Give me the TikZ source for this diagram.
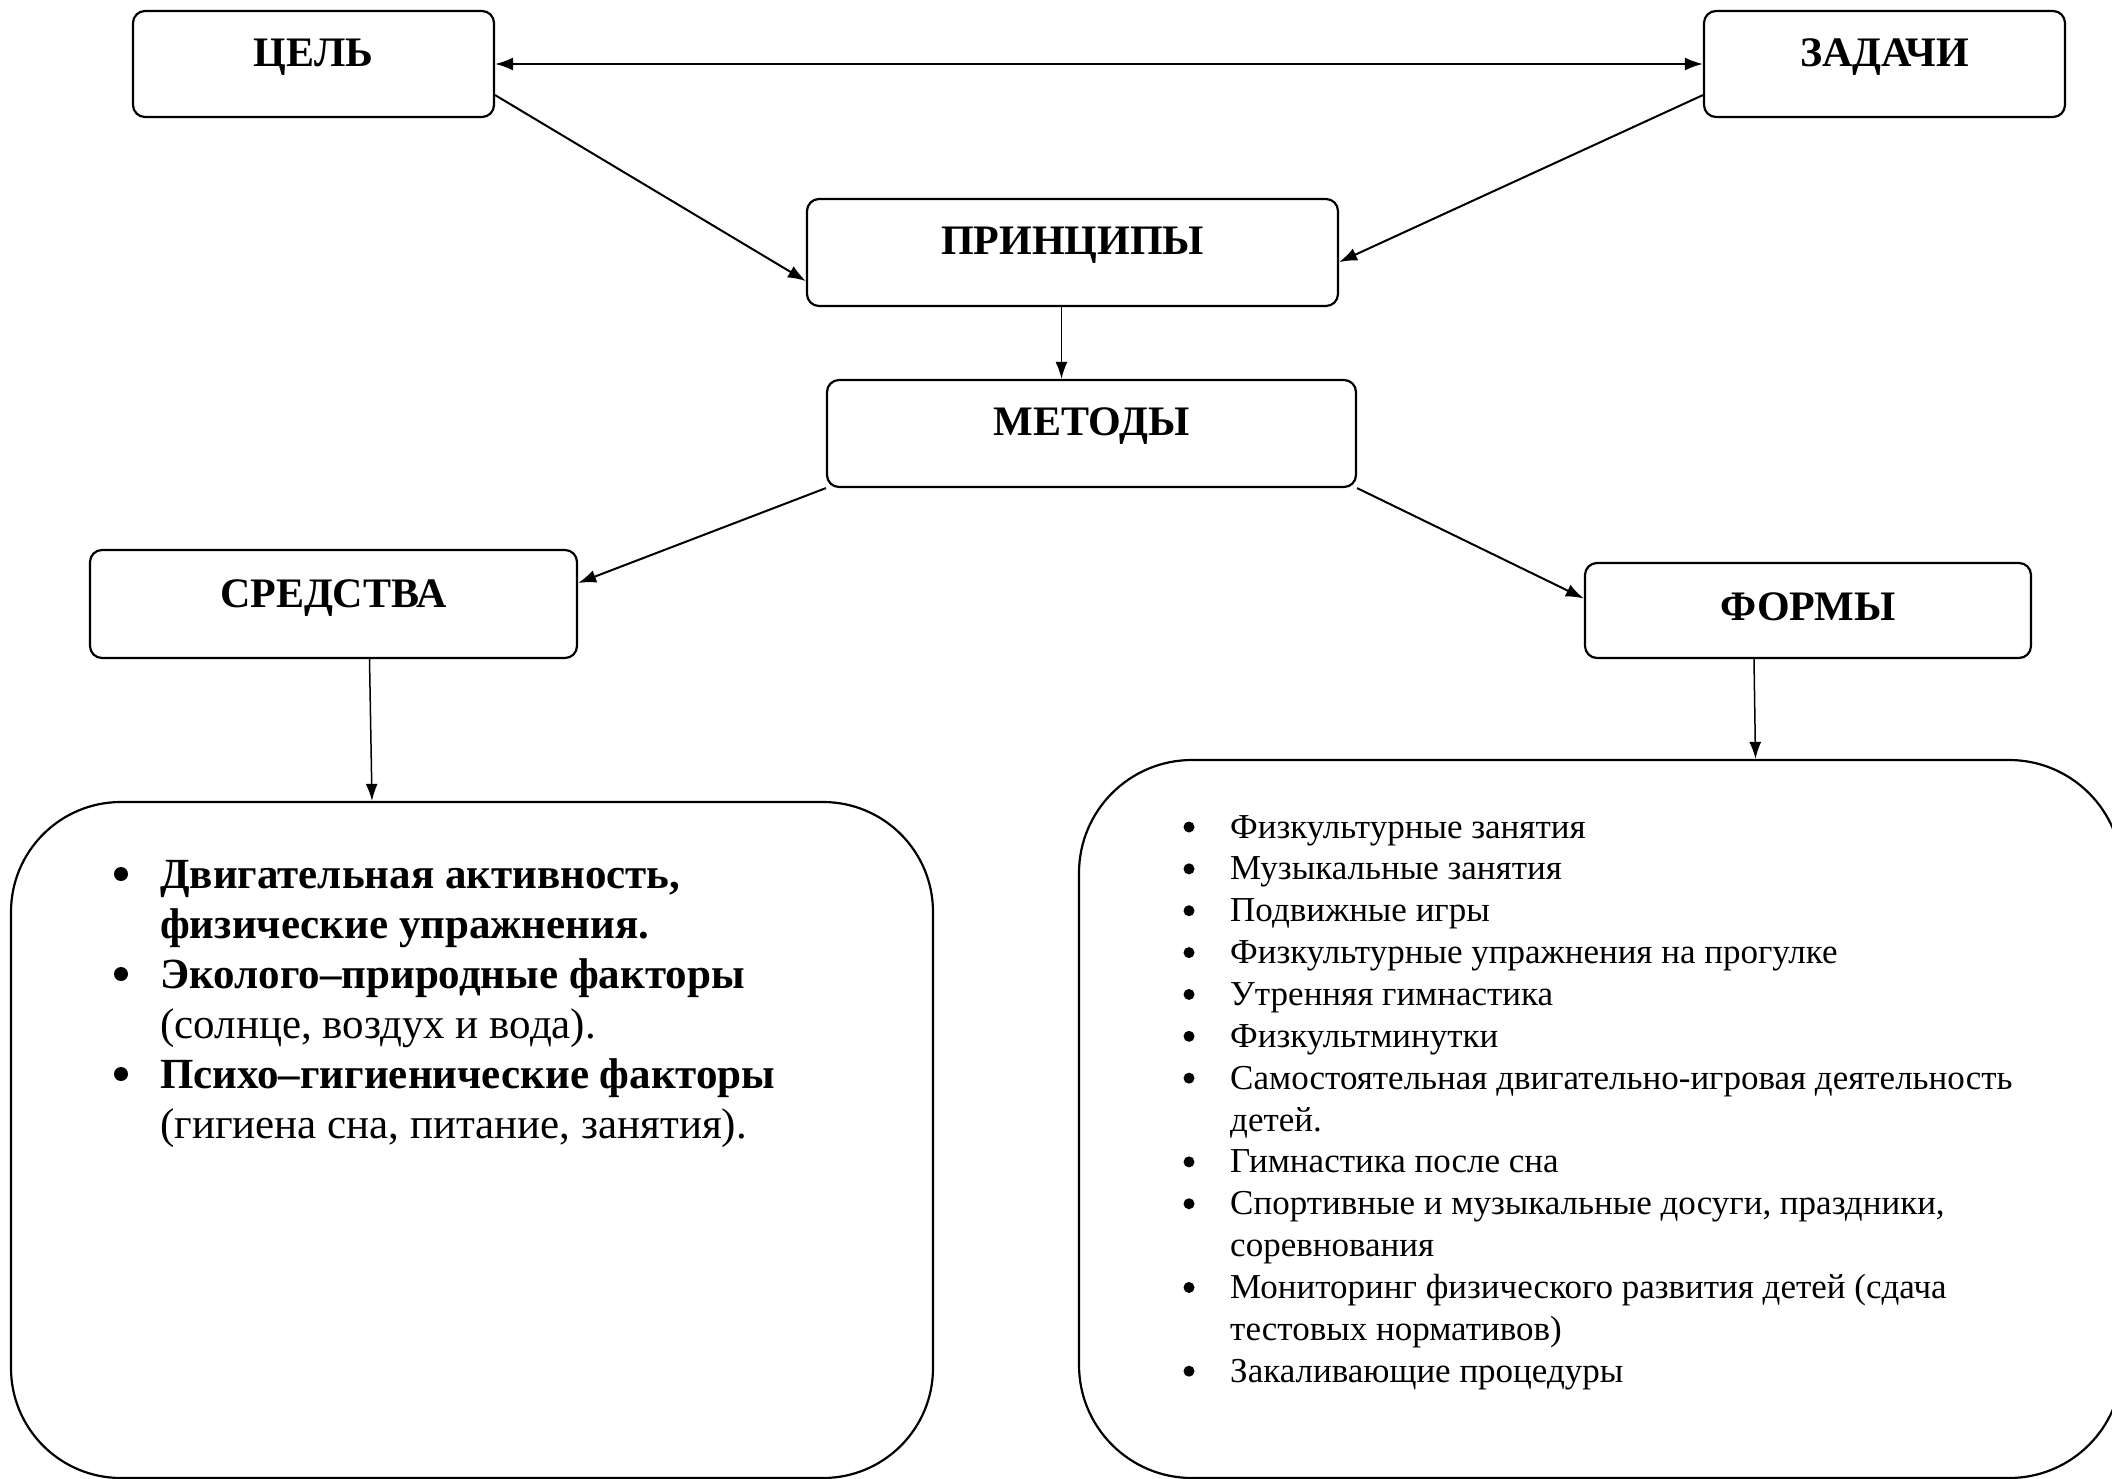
\documentclass[tikz,border=0pt]{standalone}
\usepackage{fontspec}
\setmainfont{Liberation Serif}
\usetikzlibrary{arrows.meta,calc}

\begin{document}
\begin{tikzpicture}[yscale=-1
    ,hbox/.style={draw=black,line width=2.2pt,rounded corners=12pt,inner sep=0pt,font=\bfseries\fontsize{42}{48}\selectfont}
    ,bigbox/.style={draw=black,line width=2.2pt,inner sep=0pt}
    ,arr/.style={line width=2pt,-{Latex[length=18pt,width=13pt]}}
    ,arrthin/.style={line width=1.5pt,-{Latex[length=17pt,width=12pt]}}
    ,itemb/.style={anchor=base west,inner sep=0pt,font=\bfseries\fontsize{43}{50}\selectfont}
    ,itemr/.style={anchor=base west,inner sep=0pt,font=\fontsize{35}{42}\selectfont}
  ]
  \useasboundingbox (0pt,0pt) rectangle (2112pt,1479pt);
  % top row
  \node[hbox,minimum width=361pt,minimum height=106pt,text height=56pt,text depth=50pt] (cel) at (313.5pt,64pt) {ЦЕЛЬ};
  \node[hbox,minimum width=361pt,minimum height=106pt,text height=56pt,text depth=50pt] (zad) at (1884.5pt,64pt) {ЗАДАЧИ};
  \node[hbox,minimum width=531pt,minimum height=107pt,text height=56pt,text depth=51pt] (princ) at (1072.5pt,252.5pt) {ПРИНЦИПЫ};
  \node[hbox,minimum width=529pt,minimum height=107pt,text height=55pt,text depth=52pt] (met) at (1091.5pt,433.5pt) {МЕТОДЫ};
  \node[hbox,minimum width=487pt,minimum height=108pt,text height=57pt,text depth=51pt] (sred) at (333.5pt,604pt) {СРЕДСТВА};
  \node[hbox,minimum width=446pt,minimum height=95pt,text height=57pt,text depth=38pt] (form) at (1808pt,610.5pt) {ФОРМЫ};
  % big boxes
  \node[bigbox,rounded corners=110pt,minimum width=922pt,minimum height=676pt] (lbox) at (472pt,1140pt) {};
  \node[bigbox,rounded corners=113pt,minimum width=1043pt,minimum height=718pt] (rbox) at (1600.5pt,1119pt) {};
  % connectors
  \draw[line width=2pt,{Latex[length=18pt,width=13pt]}-{Latex[length=18pt,width=13pt]}] (cel.east) -- (zad.west);
  \draw[arr] ($(cel.south east)+(0pt,-23pt)$) -- ($(princ.south west)+(0pt,-26pt)$);
  \draw[arr] ($(zad.south west)+(0pt,-23pt)$) -- ($(princ.south east)+(0pt,-45pt)$);
  \draw[arrthin] ($(princ.south)+(-11pt,0pt)$) -- ($(princ.south |- met.north)+(-11pt,0pt)$);
  \draw[arr] (met.south west) -- ($(sred.east)+(0pt,-21pt)$);
  \draw[arr] (met.south east) -- ($(form.west)+(0pt,-12pt)$);
  \draw[arrthin] ($(sred.south)+(36pt,0pt)$) -- ($(lbox.north)+(-100pt,0pt)$);
  \draw[arrthin] ($(form.south)+(-54pt,0pt)$) -- ($(rbox.north)+(155pt,0pt)$);
  % means
  \foreach \b/\txt [count=\k from 0] in {1/{Двигательная активность,},0/{физические упражнения.},
      1/{Эколого–природные факторы},0/{\mdseries (солнце, воздух и вода).},
      1/{Психо–гигиенические факторы},0/{\mdseries (гигиена сна, питание, занятия).}}
  {
    \node[itemb] (sred\k) at (160pt,888pt+\k*50pt) {\txt};
    \ifnum\b=1 \fill ($(sred\k.base west)+(-39pt,-14pt)$) circle (7pt);\fi
  }
  % forms
  \foreach \b/\txt [count=\k from 0] in {1/{Физкультурные занятия},1/{Музыкальные занятия},1/{Подвижные игры},
      1/{Физкультурные упражнения на прогулке},1/{Утренняя гимнастика},1/{Физкультминутки},
      1/{Самостоятельная двигательно-игровая деятельность},0/{детей.},1/{Гимнастика после сна},
      1/{Спортивные и музыкальные досуги, праздники,},0/{соревнования},
      1/{Мониторинг физического развития детей (сдача},0/{тестовых нормативов)},1/{Закаливающие процедуры}}
  {
    \node[itemr] (form\k) at (1230pt,838pt+\k*41.86pt) {\txt};
    \ifnum\b=1 \fill ($(form\k.base west)+(-41pt,-11pt)$) circle (5.5pt);\fi
  }
\end{tikzpicture}
\end{document}
